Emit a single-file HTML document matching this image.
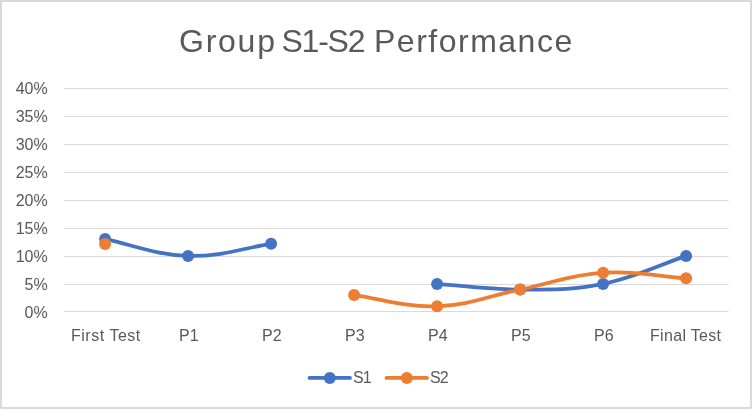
<!DOCTYPE html>
<html><head><meta charset="utf-8"><style>
html,body{margin:0;padding:0;background:#fff;}
body{-webkit-font-smoothing:antialiased;width:752px;height:409px;overflow:hidden;position:relative;font-family:"Liberation Sans",sans-serif;color:#595959;}
.frame{position:absolute;left:0;top:0;width:748px;height:405px;border:2px solid #d9d9d9;background:#fff;border-radius:1.4px;}
.title{position:absolute;left:0;top:22px;width:752px;height:38px;font-size:32px;line-height:38px;color:#595959;white-space:nowrap;}
.t1{position:absolute;left:179px;top:0;letter-spacing:1.75px;}
.t3{position:absolute;left:281.5px;top:0;letter-spacing:-1.25px;}
.t2{position:absolute;left:374px;top:0;letter-spacing:1.5px;}
.yl,.xl,.lg,.title{will-change:transform;}
.yl{position:absolute;left:0;width:47.7px;text-align:right;font-size:16px;letter-spacing:0;line-height:18px;height:18px;}
.xl{position:absolute;top:327px;text-align:left;font-size:16px;line-height:18px;white-space:nowrap;}
.lg{position:absolute;top:369px;font-size:16px;letter-spacing:-0.8px;line-height:18px;}
svg{position:absolute;left:0;top:0;}
</style></head><body>
<div class="frame"></div>
<div class="title"><span class="t1">Group</span><span class="t3">S1-S2</span><span class="t2">Performance</span></div>
<div class="yl" style="top:80px">40%</div>
<div class="yl" style="top:108px">35%</div>
<div class="yl" style="top:136px">30%</div>
<div class="yl" style="top:164px">25%</div>
<div class="yl" style="top:192px">20%</div>
<div class="yl" style="top:220px">15%</div>
<div class="yl" style="top:248px">10%</div>
<div class="yl" style="top:276px">5%</div>
<div class="yl" style="top:304px">0%</div>

<div class="xl" style="left:71.00px;letter-spacing:0.52px">First Test</div>
<div class="xl" style="left:179.40px;letter-spacing:0.00px">P1</div>
<div class="xl" style="left:262.30px;letter-spacing:0.00px">P2</div>
<div class="xl" style="left:345.40px;letter-spacing:0.00px">P3</div>
<div class="xl" style="left:428.40px;letter-spacing:0.00px">P4</div>
<div class="xl" style="left:511.30px;letter-spacing:0.00px">P5</div>
<div class="xl" style="left:594.40px;letter-spacing:0.00px">P6</div>
<div class="xl" style="left:650.30px;letter-spacing:0.32px">Final Test</div>

<svg width="752" height="409" viewBox="0 0 752 409">
<rect x="64" y="88" width="664.8" height="1" fill="#d9d9d9"/>
<rect x="64" y="116" width="664.8" height="1" fill="#d9d9d9"/>
<rect x="64" y="144" width="664.8" height="1" fill="#d9d9d9"/>
<rect x="64" y="172" width="664.8" height="1" fill="#d9d9d9"/>
<rect x="64" y="200" width="664.8" height="1" fill="#d9d9d9"/>
<rect x="64" y="228" width="664.8" height="1" fill="#d9d9d9"/>
<rect x="64" y="256" width="664.8" height="1" fill="#d9d9d9"/>
<rect x="64" y="284" width="664.8" height="1" fill="#d9d9d9"/>
<rect x="64" y="311" width="664.8" height="1" fill="#d9d9d9"/>

<path d="M105.10 239.10 C132.77 244.70 154.90 254.95 188.10 255.90 C221.30 256.85 243.43 247.87 271.10 243.86" fill="none" stroke="#4472C4" stroke-width="3.75" stroke-linecap="round" stroke-linejoin="round"/>
<path d="M437.10 283.90 C464.77 285.77 486.90 289.50 520.10 289.50 C553.30 289.50 569.90 290.62 603.10 283.90 C636.30 277.18 658.43 265.23 686.10 255.90" fill="none" stroke="#4472C4" stroke-width="3.75" stroke-linecap="round" stroke-linejoin="round"/>
<circle cx="105.10" cy="239.10" r="6" fill="#4472C4"/>
<circle cx="188.10" cy="255.90" r="6" fill="#4472C4"/>
<circle cx="271.10" cy="243.86" r="6" fill="#4472C4"/>
<circle cx="437.10" cy="283.90" r="6" fill="#4472C4"/>
<circle cx="520.10" cy="289.50" r="6" fill="#4472C4"/>
<circle cx="603.10" cy="283.90" r="6" fill="#4472C4"/>
<circle cx="686.10" cy="255.90" r="6" fill="#4472C4"/>

<path d="M354.10 295.10 C381.77 298.83 403.90 307.42 437.10 306.30 C470.30 305.18 486.90 296.22 520.10 289.50 C553.30 282.78 569.90 274.94 603.10 272.70 C636.30 270.46 658.43 276.43 686.10 278.30" fill="none" stroke="#ED7D31" stroke-width="3.75" stroke-linecap="round" stroke-linejoin="round"/>
<circle cx="105.10" cy="244.03" r="6" fill="#ED7D31"/>
<circle cx="354.10" cy="295.10" r="6" fill="#ED7D31"/>
<circle cx="437.10" cy="306.30" r="6" fill="#ED7D31"/>
<circle cx="520.10" cy="289.50" r="6" fill="#ED7D31"/>
<circle cx="603.10" cy="272.70" r="6" fill="#ED7D31"/>
<circle cx="686.10" cy="278.30" r="6" fill="#ED7D31"/>

<line x1="309.5" y1="377.9" x2="350" y2="377.9" stroke="#4472C4" stroke-width="3.75" stroke-linecap="round"/>
<circle cx="329.8" cy="377.9" r="6" fill="#4472C4"/>
<line x1="386.5" y1="377.9" x2="427" y2="377.9" stroke="#ED7D31" stroke-width="3.75" stroke-linecap="round"/>
<circle cx="406.8" cy="377.9" r="6" fill="#ED7D31"/>
</svg>
<div class="lg" style="left:353px">S1</div>
<div class="lg" style="left:430.4px">S2</div>
</body></html>
